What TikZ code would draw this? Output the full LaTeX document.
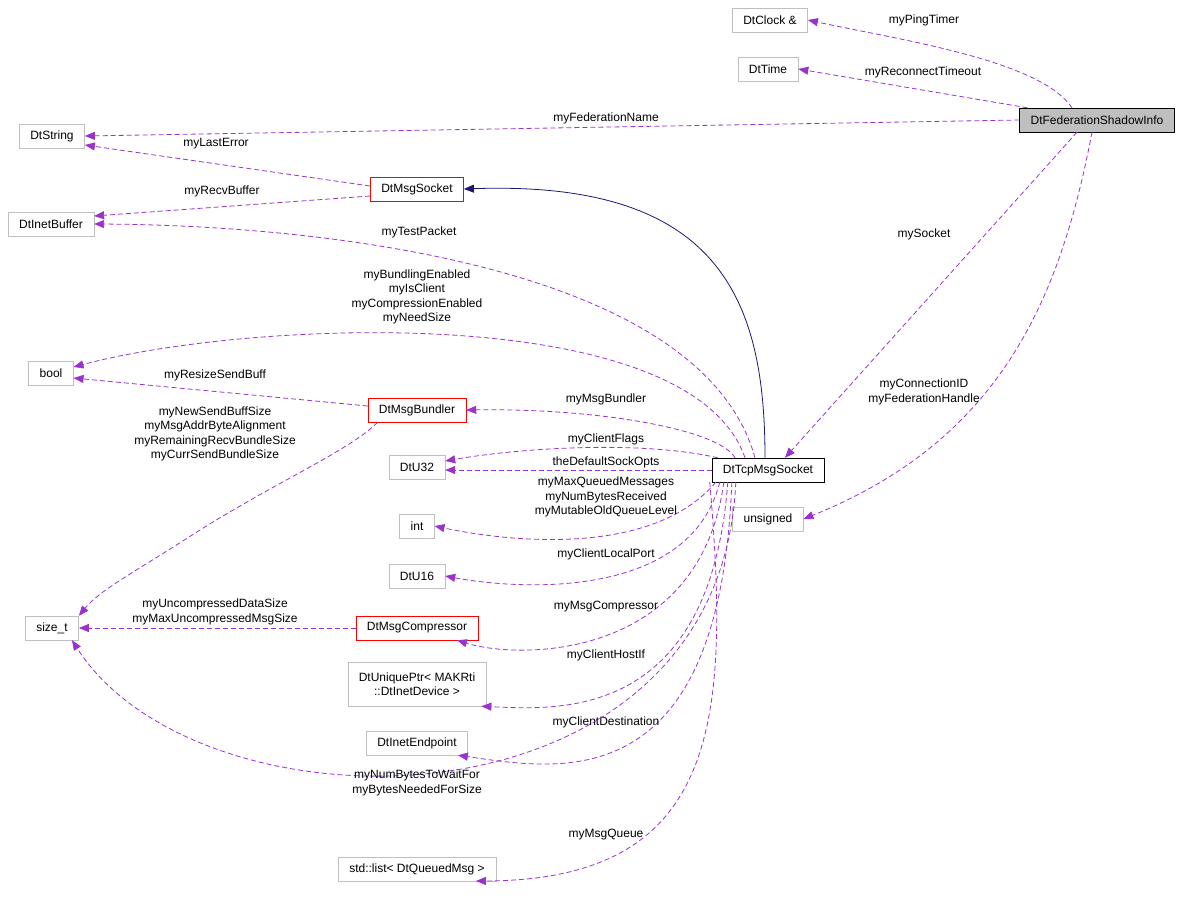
\documentclass[tikz,border=0pt]{standalone}
\usepackage{fontspec}
\setmainfont{Liberation Sans}
\usetikzlibrary{arrows.meta,calc}
\definecolor{edgep}{HTML}{9A32CD}
\definecolor{inh}{HTML}{191970}
\definecolor{gbox}{HTML}{BFBFBF}
\begin{document}
\begin{tikzpicture}[x=1pt,y=-1pt,
  every node/.style={font=\fontsize{12}{14.5}\selectfont},
  box/.style={draw=gbox,fill=white,minimum height=24pt,inner xsep=11pt,align=center},
  rbox/.style={box,draw=red},
  bbox/.style={box,draw=black},
  use/.style={draw=edgep,dash pattern=on 5pt off 3pt,line width=0.8pt,-{Triangle[width=8pt,length=10pt,fill=edgep]}},
  lab/.style={align=center,inner sep=1pt}]
\useasboundingbox (0,0) rectangle (1187,898);
% nodes
\node[box] (clock) at (770,20) {DtClock \&};
\node[box] (time) at (768,69) {DtTime};
\node[bbox,fill=gbox] (fsi) at (1097,120) {DtFederationShadowInfo};
\node[box] (str) at (52,136) {DtString};
\node[rbox] (msock) at (417,189) {DtMsgSocket};
\node[box] (ibuf) at (51,224) {DtInetBuffer};
\node[box] (bool) at (51,373) {bool};
\node[rbox] (bund) at (417,410) {DtMsgBundler};
\node[box] (u32) at (417,467) {DtU32};
\node[bbox] (tcp) at (768,470) {DtTcpMsgSocket};
\node[box] (uns) at (768,519) {unsigned};
\node[box] (int) at (417,526) {int};
\node[box] (u16) at (417,576) {DtU16};
\node[box] (sizet) at (52,628) {size\_t};
\node[rbox] (comp) at (417,628) {DtMsgCompressor};
\node[box,minimum height=44pt] (uptr) at (417,684) {DtUniquePtr< MAKRti\\::DtInetDevice >};
\node[box] (iep) at (417,743) {DtInetEndpoint};
\node[box] (lst) at (417,869) {std::list< DtQueuedMsg >};
% edges
\draw[use] ($(fsi.north)+(-25,0)$) .. controls (1040,60) and (900,40) .. (clock.east);
\node[lab] at (924,20) {myPingTimer};
\draw[use] ($(fsi.north west)+(8,0)$) -- (time.east);
\node[lab] at (923,72) {myReconnectTimeout};
\draw[use] (fsi.west) -- (str.east);
\node[lab] at (606,118) {myFederationName};
\draw[use] ($(msock.west)+(0,-3)$) -- ($(str.east)+(0,9)$);
\node[lab] at (216,144) {myLastError};
\draw[use] ($(msock.west)+(0,7)$) -- ($(ibuf.east)+(0,-8)$);
\node[lab] at (222,191) {myRecvBuffer};
\draw[draw=inh,line width=0.8pt,-{Triangle[width=8pt,length=10pt,fill=inh]}] ($(tcp.north)+(-3,0)$) .. controls (765,300) and (720,180) .. (msock.east);
\draw[use] ($(tcp.north)+(-13,0)$) .. controls (700,260) and (300,225) .. (ibuf.east);
\node[lab] at (419,232) {myTestPacket};
\draw[use] ($(tcp.north)+(-23,0)$) .. controls (690,300) and (250,320) .. ($(bool.east)+(0,-6)$);
\node[lab] at (417,297) {myBundlingEnabled\\myIsClient\\myCompressionEnabled\\myNeedSize};
\draw[use] ($(bund.west)+(0,-4)$) -- ($(bool.east)+(0,5)$);
\node[lab] at (215,375) {myResizeSendBuff};
\draw[use] ($(tcp.north)+(-33,0)$) .. controls (720,430) and (600,408) .. (bund.east);
\node[lab] at (606,399) {myMsgBundler};
\draw[use] ($(bund.south west)+(10,0)$) .. controls (350,450) and (280,480) .. (200,530) .. controls (130,575) and (100,590) .. (sizet.north east);
\node[lab] at (215,434) {myNewSendBuffSize\\myMsgAddrByteAlignment\\myRemainingRecvBundleSize\\myCurrSendBundleSize};
\draw[use] ($(tcp.north west)+(6,0)$) .. controls (640,440) and (520,448) .. ($(u32.east)+(0,-6)$);
\node[lab] at (606,439) {myClientFlags};
\draw[use] (tcp.west) -- ($(u32.east)+(0,3)$);
\node[lab] at (606,462) {theDefaultSockOpts};
\draw[use] ($(fsi.south)+(-20,0)$) -- ($(tcp.north)+(17,0)$);
\node[lab] at (924,234) {mySocket};
\draw[use] ($(fsi.south)+(-5,0)$) .. controls (1060,300) and (1000,440) .. (uns.east);
\node[lab] at (924,392) {myConnectionID\\myFederationHandle};
\draw[use] ($(tcp.south west)+(4,0)$) .. controls (650,560) and (500,540) .. (int.east);
\node[lab] at (606,497) {myMaxQueuedMessages\\myNumBytesReceived\\myMutableOldQueueLevel};
\draw[use] ($(tcp.south west)+(8,0)$) .. controls (690,600) and (520,590) .. (u16.east);
\node[lab] at (606,554) {myClientLocalPort};
\draw[use] ($(tcp.south west)+(12,0)$) .. controls (700,660) and (520,660) .. ($(comp.south)+(40,0)$);
\node[lab] at (606,607) {myMsgCompressor};
\draw[use] ($(tcp.south west)+(16,0)$) .. controls (710,720) and (560,710) .. ($(uptr.south east)+(-5,0)$);
\node[lab] at (606,655) {myClientHostIf};
\draw[use] ($(tcp.south west)+(20,0)$) .. controls (720,800) and (560,770) .. ($(iep.south east)+(-10,0)$);
\node[lab] at (606,722) {myClientDestination};
\draw[use] ($(tcp.south west)+(24,0)$) .. controls (720,840) and (200,840) .. ($(sizet.south)+(20,0)$);
\node[lab] at (417,783) {myNumBytesToWaitFor\\myBytesNeededForSize};
\draw[use] ($(tcp.south west)+(-2,0)$) .. controls (730,720) and (720,880) .. ($(lst.east)+(-20,12)$);
\node[lab] at (606,835) {myMsgQueue};
\draw[use] (comp.west) -- (sizet.east);
\node[lab] at (215,612) {myUncompressedDataSize\\myMaxUncompressedMsgSize};
\end{tikzpicture}
\end{document}
